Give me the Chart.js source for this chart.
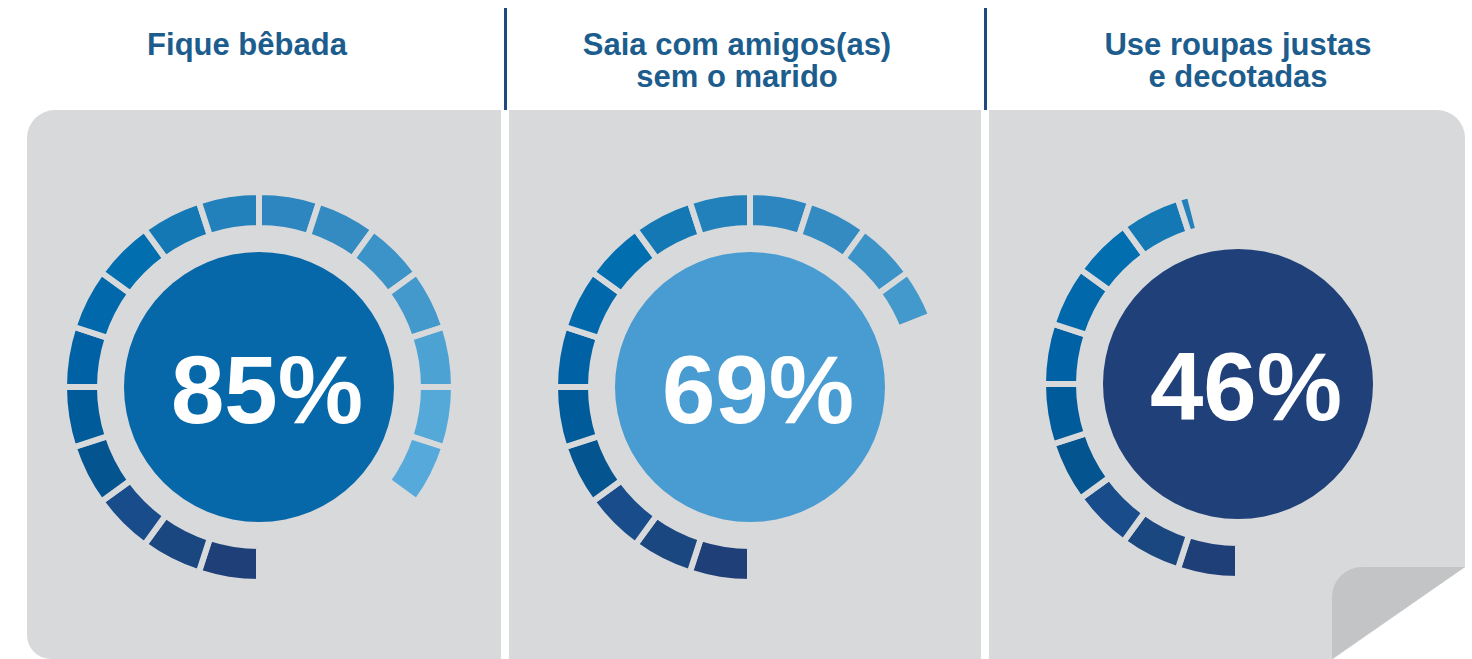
<!DOCTYPE html>
<html>
<head>
<meta charset="utf-8">
<script src="https://cdn.jsdelivr.net/npm/chart.js@4.4.1/dist/chart.umd.min.js"></script>
<style>
  body { margin: 0; width: 1472px; height: 659px; overflow: hidden; position: relative; background: #fff;
         font-family: "Liberation Sans", Arial, sans-serif; }
  .panel { position: absolute; top: 110px; height: 549px; background: #d8d9db; }
  #p1 { left: 27px; width: 474px; border-radius: 28px 0 0 24px; }
  #p2 { left: 509px; width: 472px; }
  #p3 { left: 989px; width: 476px; border-radius: 0 28px 0 0;
        clip-path: polygon(0 0, 100% 0, 100% 457px, 344px 549px, 0 549px); }
  #flap { position: absolute; left: 1332px; top: 567px; width: 133px; height: 92px; background: #c3c4c6;
          border-top-left-radius: 30px; clip-path: polygon(0 0, 100% 0, 0 100%); }
  .divider { position: absolute; top: 8px; width: 3px; height: 102px; background: #1f4a80; }
  .title { position: absolute; top: 29px; width: 500px; text-align: center; color: #1c5d8e;
           font-weight: bold; font-size: 31px; line-height: 32px; }
  canvas { position: absolute; }
</style>
</head>
<body>
<div class="panel" id="p1"></div>
<div class="panel" id="p2"></div>
<div class="panel" id="p3"></div>
<div id="flap"></div>
<div class="divider" style="left:504px"></div>
<div class="divider" style="left:984px"></div>
<div class="title" id="t0"></div>
<div class="title" id="t1"></div>
<div class="title" id="t2"></div>
<canvas id="c0" width="440" height="440"></canvas>
<canvas id="c1" width="440" height="440"></canvas>
<canvas id="c2" width="440" height="440"></canvas>
<script>
// chart data
var titles = [["Fique bêbada"], ["Saia com amigos(as)", "sem o marido"], ["Use roupas justas", "e decotadas"]];
var values = [85, 69, 46];
var steps = 20;
var stepColors = ["#1f3f78", "#1b4780", "#194c8a", "#04548f", "#005b9b", "#0062a5", "#0068ab", "#006eaf",
                  "#1478b4", "#2280ba", "#2d86bf", "#348bc2", "#3c93c8", "#4399cc", "#4da2d4", "#54a9d9",
                  "#56aadb", "#5cb0de", "#62b5e1", "#68bae4"];
var discColors = ["#0668a9", "#489cd1", "#1f4079"];

// layout bits
var panelGray = "#d8d9db";
var titleX = [247, 737, 1238];
var centers = [[259, 387], [750, 387], [1238, 384]];

// draws the big white number on the disc
var centerText = {
    id: 'centerText',
    afterDatasetsDraw: function(chart, args, opts) {
        var arc = chart.getDatasetMeta(2).data[0];
        var ctx = chart.ctx;
        ctx.save();
        ctx.font = 'bold 96px "Liberation Sans", Arial, sans-serif';
        ctx.fillStyle = '#fff';
        ctx.textAlign = 'center';
        ctx.textBaseline = 'alphabetic';
        ctx.fillText(opts.text, arc.x + 8, arc.y + 36);
        ctx.restore();
    }
};

// split a percentage into ring steps of 5%
function ringData(v) {
    var each = 100 / steps;
    var data = [], colors = [], borders = [];
    var left = v;
    for (var i = 0; i < steps && left > 0; i++) {
        var part = Math.min(each, left);
        data.push(part);
        colors.push(stepColors[i]);
        borders.push(6);
        left -= part;
    }
    if (v < 100) {
        data.push(100 - v);
        colors.push('rgba(0,0,0,0)');
        borders.push(0);
    }
    return { data: data, colors: colors, borders: borders };
}

for (var i = 0; i < values.length; i++) {
    var t = document.getElementById('t' + i);
    t.innerHTML = titles[i].join('<br>');
    t.style.left = (titleX[i] - 250) + 'px';

    var canvas = document.getElementById('c' + i);
    canvas.style.left = (centers[i][0] - 220) + 'px';
    canvas.style.top = (centers[i][1] - 220) + 'px';

    var r = ringData(values[i]);
    new Chart(canvas, {
        type: 'doughnut',
        data: {
            datasets: [
                { data: r.data, backgroundColor: r.colors, borderColor: panelGray, borderWidth: r.borders, weight: 36 },
                { data: [100], backgroundColor: 'rgba(0,0,0,0)', borderWidth: 0, weight: 24 },
                { data: [100], backgroundColor: discColors[i], borderWidth: 0, weight: 135 }
            ]
        },
        options: {
            responsive: false,
            animation: false,
            events: [],
            rotation: 180,
            cutout: 0,
            radius: 195,
            plugins: {
                legend: { display: false },
                tooltip: { enabled: false },
                centerText: { text: values[i] + '%' }
            }
        },
        plugins: [centerText]
    });
}
</script>
</body>
</html>
